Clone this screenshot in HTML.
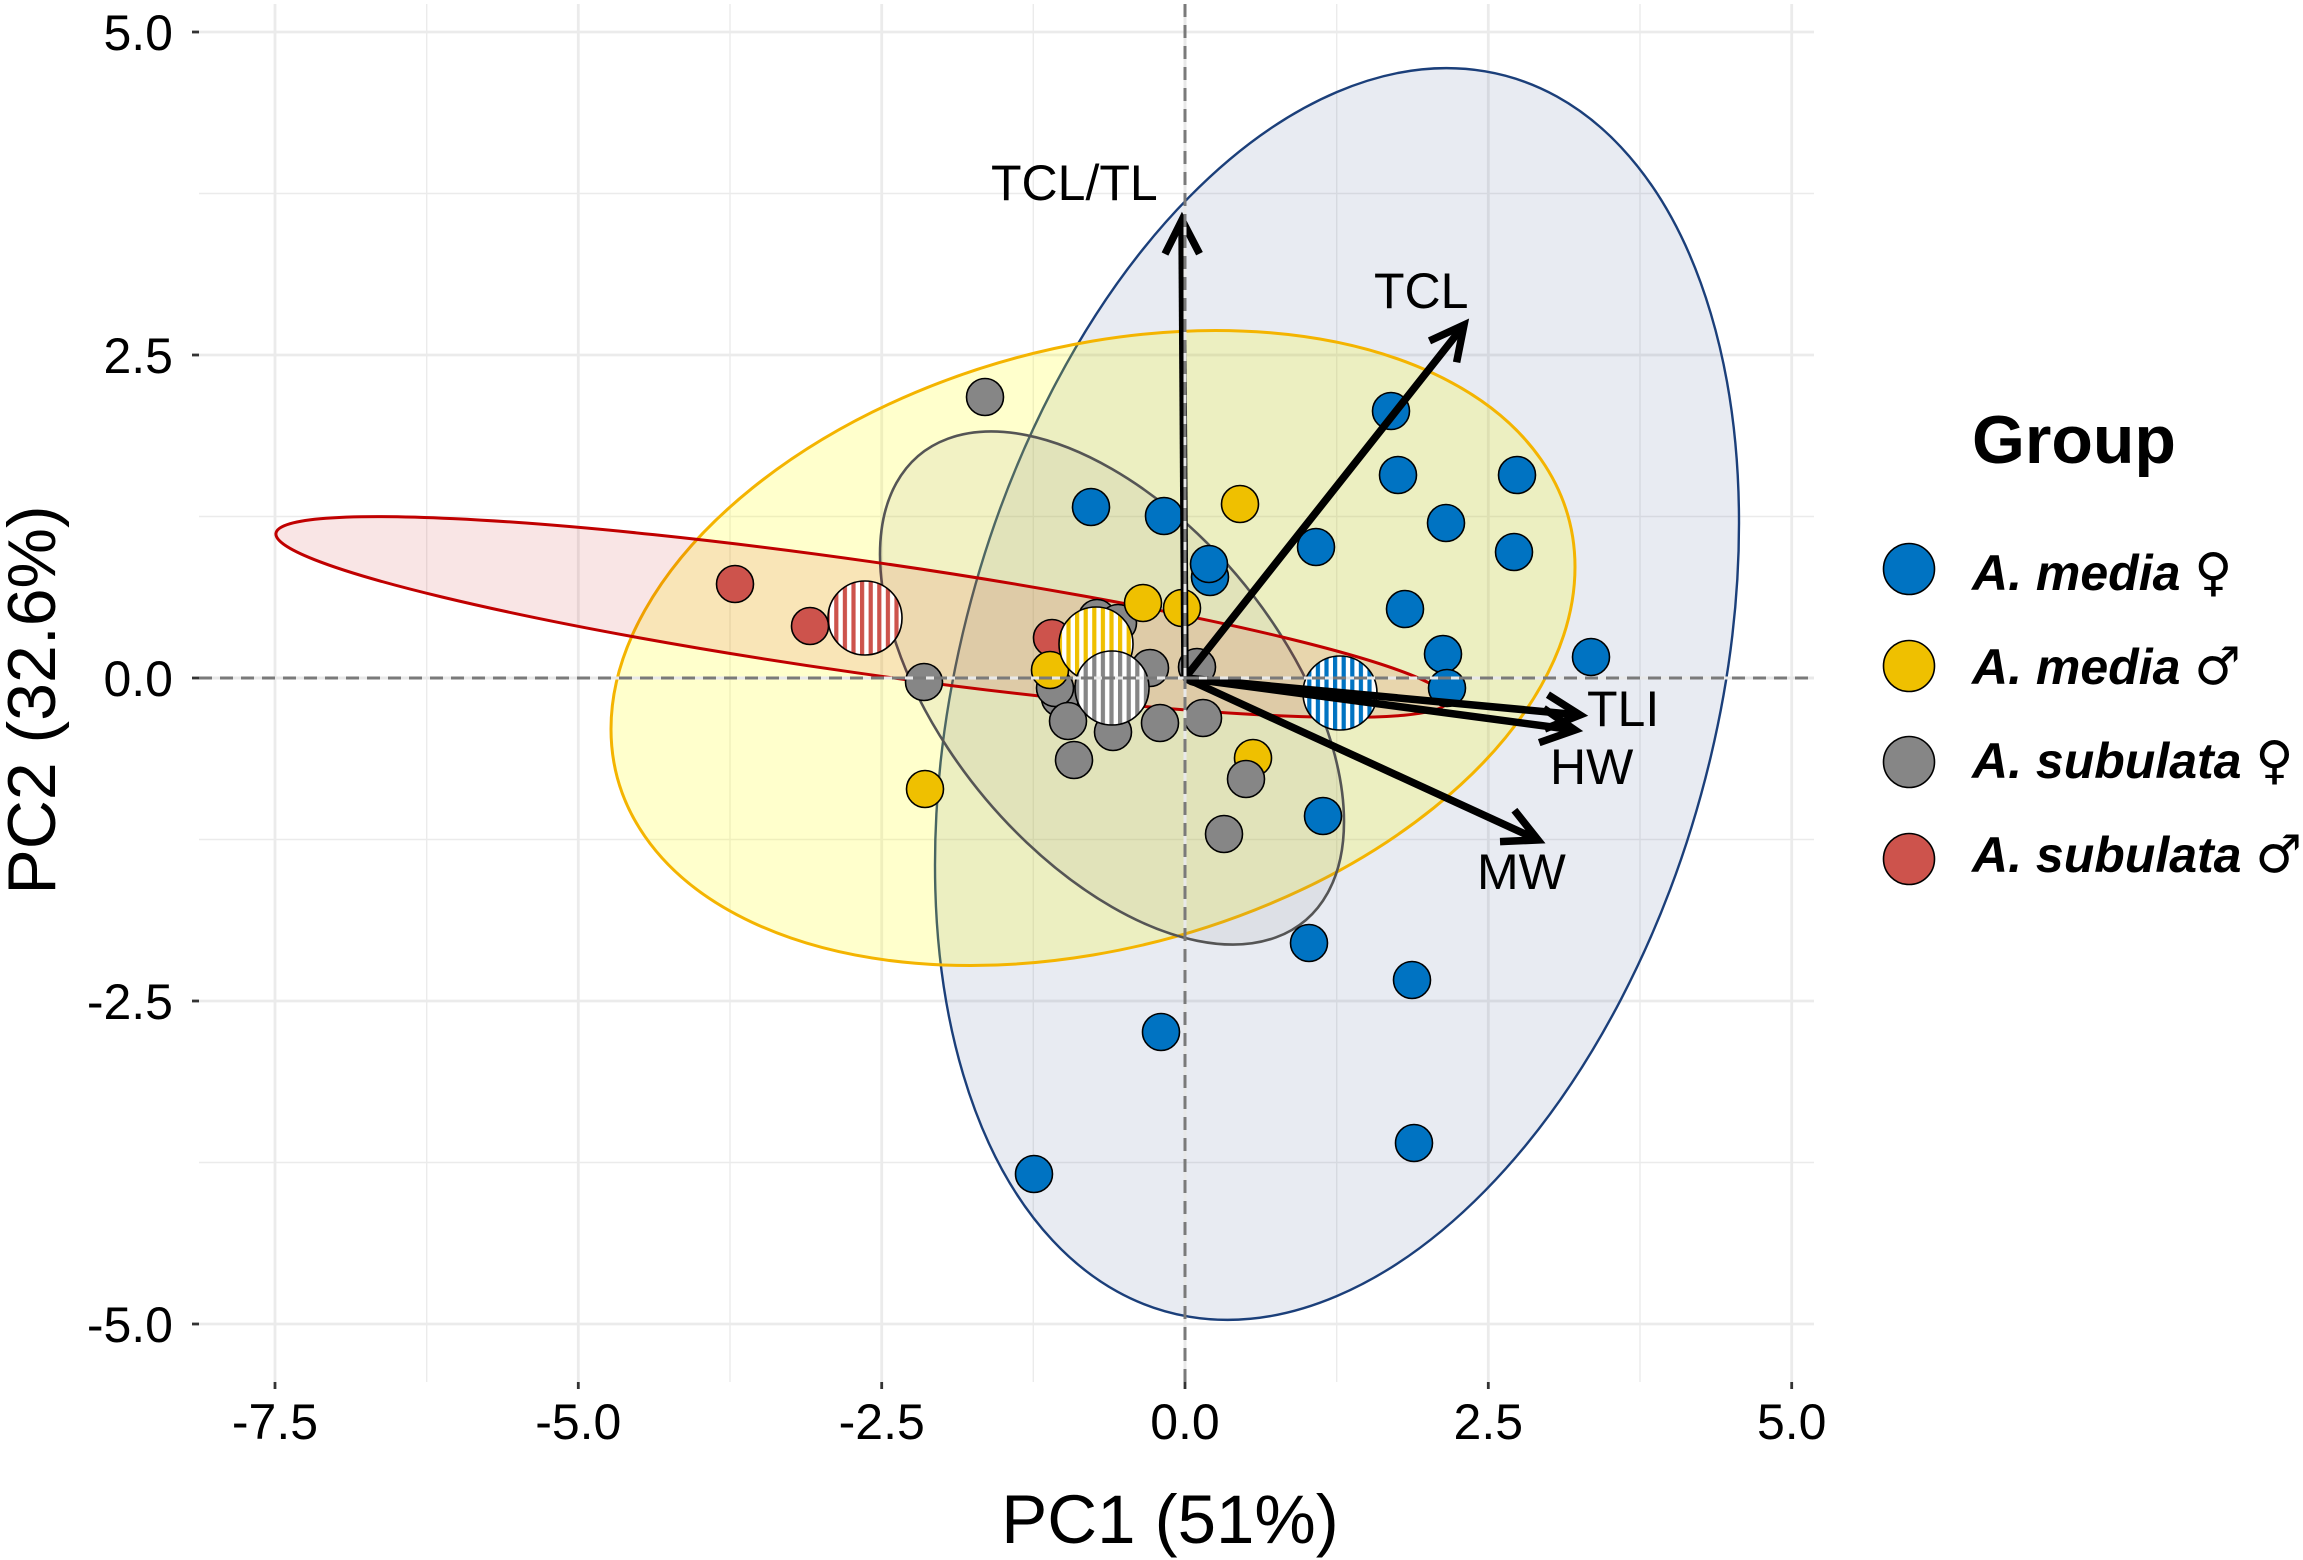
<!DOCTYPE html>
<html><head><meta charset="utf-8"><style>
html,body{margin:0;padding:0;background:#fff;}
svg{display:block;}
text{font-family:"Liberation Sans",Arial,sans-serif;}
</style></head><body>
<svg width="2303" height="1560" viewBox="0 0 2303 1560" xmlns="http://www.w3.org/2000/svg">
<defs>
<pattern id="pB" patternUnits="userSpaceOnUse" width="8.6" height="20"><rect width="8.6" height="20" fill="#fff"/><rect x="0" width="4.2" height="20" fill="#0073C2"/></pattern>
<pattern id="pY" patternUnits="userSpaceOnUse" width="8.6" height="20"><rect width="8.6" height="20" fill="#fff"/><rect x="0" width="4.2" height="20" fill="#EFC000"/></pattern>
<pattern id="pG" patternUnits="userSpaceOnUse" width="8.6" height="20"><rect width="8.6" height="20" fill="#fff"/><rect x="0" width="4.2" height="20" fill="#868686"/></pattern>
<pattern id="pR" patternUnits="userSpaceOnUse" width="8.6" height="20"><rect width="8.6" height="20" fill="#fff"/><rect x="0" width="4.2" height="20" fill="#CD534C"/></pattern>
</defs>
<rect width="2303" height="1560" fill="#fff"/>
<!-- minor grid -->
<g stroke="#ebebeb" stroke-width="1.4">
<line x1="426.7" y1="4" x2="426.7" y2="1382"/><line x1="730" y1="4" x2="730" y2="1382"/><line x1="1033.3" y1="4" x2="1033.3" y2="1382"/><line x1="1336.7" y1="4" x2="1336.7" y2="1382"/><line x1="1640" y1="4" x2="1640" y2="1382"/>
<line x1="199" y1="193.5" x2="1814" y2="193.5"/><line x1="199" y1="516.5" x2="1814" y2="516.5"/><line x1="199" y1="839.5" x2="1814" y2="839.5"/><line x1="199" y1="1162.5" x2="1814" y2="1162.5"/>
</g>
<!-- major grid -->
<g stroke="#ebebeb" stroke-width="2.8">
<line x1="275" y1="4" x2="275" y2="1382"/><line x1="578.3" y1="4" x2="578.3" y2="1382"/><line x1="881.7" y1="4" x2="881.7" y2="1382"/><line x1="1185" y1="4" x2="1185" y2="1382"/><line x1="1488.3" y1="4" x2="1488.3" y2="1382"/><line x1="1791.7" y1="4" x2="1791.7" y2="1382"/>
<line x1="199" y1="32" x2="1814" y2="32"/><line x1="199" y1="355" x2="1814" y2="355"/><line x1="199" y1="678" x2="1814" y2="678"/><line x1="199" y1="1001" x2="1814" y2="1001"/><line x1="199" y1="1324" x2="1814" y2="1324"/>
</g>
<!-- ellipses -->
<circle r="1" transform="matrix(402,-171,0,602,1337,694)" fill="rgba(26,61,124,0.1)" stroke="#1b3f7a" stroke-width="2.4" vector-effect="non-scaling-stroke"/>
<circle r="1" transform="matrix(482,-81,0,307,1093,648)" fill="rgba(255,255,0,0.2)" stroke="#f4b400" stroke-width="3" vector-effect="non-scaling-stroke"/>
<circle r="1" transform="matrix(232,133.6,0,219,1112,688)" fill="rgba(128,128,128,0.1)" stroke="#555555" stroke-width="2.6" vector-effect="non-scaling-stroke"/>
<ellipse cx="0" cy="0" rx="592" ry="56" transform="translate(862 617) rotate(8.13)" fill="rgba(192,0,0,0.1)" stroke="#c00000" stroke-width="3"/>
<!-- points -->
<g stroke="#000" stroke-width="1.6">
<g fill="#0073C2">
<circle cx="1391" cy="411" r="18.5"/><circle cx="1398" cy="475" r="18.5"/><circle cx="1517" cy="475" r="18.5"/><circle cx="1446" cy="523" r="18.5"/><circle cx="1514" cy="552" r="18.5"/><circle cx="1316" cy="547" r="18.5"/><circle cx="1405" cy="609" r="18.5"/><circle cx="1443" cy="654" r="18.5"/><circle cx="1447" cy="688" r="18.5"/><circle cx="1591" cy="657" r="18.5"/><circle cx="1091" cy="507" r="18.5"/><circle cx="1164" cy="516" r="18.5"/><circle cx="1210" cy="577" r="18.5"/><circle cx="1209" cy="564" r="18.5"/><circle cx="1323" cy="816" r="18.5"/><circle cx="1309" cy="943" r="18.5"/><circle cx="1412" cy="980" r="18.5"/><circle cx="1161" cy="1032" r="18.5"/><circle cx="1414" cy="1143" r="18.5"/><circle cx="1034" cy="1174" r="18.5"/>
</g>
<g fill="#CD534C">
<circle cx="735" cy="584" r="18.5"/><circle cx="810" cy="626" r="18.5"/><circle cx="1052" cy="638" r="18.5"/>
</g>
<g fill="#868686">
<circle cx="985" cy="397" r="18.5"/><circle cx="924" cy="682" r="18.5"/><circle cx="1097" cy="618" r="18.5"/><circle cx="1118" cy="623" r="18.5"/><circle cx="1060" cy="698" r="18.5"/><circle cx="1055" cy="688" r="18.5"/><circle cx="1150" cy="668" r="18.5"/><circle cx="1197" cy="667" r="18.5"/><circle cx="1068" cy="721" r="18.5"/><circle cx="1113" cy="732" r="18.5"/><circle cx="1160" cy="723" r="18.5"/><circle cx="1203" cy="718" r="18.5"/><circle cx="1074" cy="760" r="18.5"/><circle cx="1224" cy="834" r="18.5"/>
</g>
<g fill="#EFC000">
<circle cx="1240" cy="504" r="18.5"/><circle cx="1143" cy="603" r="18.5"/><circle cx="1182" cy="608" r="18.5"/><circle cx="1050" cy="670" r="18.5"/><circle cx="1253" cy="758" r="18.5"/><circle cx="925" cy="789" r="18.5"/>
</g>
<circle cx="1246" cy="779" r="18.5" fill="#868686"/>
<!-- means -->
<circle cx="1340" cy="693" r="37" fill="url(#pB)"/>
<circle cx="1096" cy="644" r="37" fill="url(#pY)"/>
<circle cx="1112" cy="688" r="37" fill="url(#pG)"/>
<circle cx="865" cy="618" r="37" fill="url(#pR)"/>
</g>
<!-- arrows -->
<g stroke="#000" stroke-width="7.5" fill="none" stroke-linejoin="miter" stroke-miterlimit="10">
<line x1="1185" y1="678" x2="1182" y2="224"/>
<path d="M1165 254 L1182 220 L1199.5 253.7"/>
<line x1="1185" y1="678" x2="1461.5" y2="328.2"/>
<path d="M1429.5 340.9 L1464 325 L1456.6 362.3"/>
<line x1="1185" y1="678" x2="1576" y2="714.6"/>
<path d="M1547.9 694.7 L1580 715 L1544.7 729"/>
<line x1="1185" y1="678" x2="1571" y2="729.5"/>
<path d="M1543.7 708.4 L1575 730 L1539.2 742.6"/>
<line x1="1185" y1="678" x2="1534.4" y2="838.3"/>
<path d="M1514.4 810.2 L1538 840 L1500 841.6"/>
</g>
<!-- dashed reference lines -->
<g stroke-width="3">
<line x1="199" y1="678" x2="1814" y2="678" stroke="#e8e8e8"/>
<line x1="1185" y1="4" x2="1185" y2="1382" stroke="#e8e8e8"/>
<line x1="199" y1="678" x2="1814" y2="678" stroke="#7a7a7a" stroke-dasharray="13 8"/>
<line x1="1185" y1="4" x2="1185" y2="1382" stroke="#7a7a7a" stroke-dasharray="13 8"/>
</g>
<!-- arrow labels -->
<g font-size="50" fill="#000">
<text x="991" y="200">TCL/TL</text>
<text x="1374" y="308">TCL</text>
<text x="1587" y="726">TLI</text>
<text x="1550" y="784">HW</text>
<text x="1477" y="889">MW</text>
</g>
<!-- axis ticks -->
<g stroke="#333" stroke-width="2.8">
<line x1="192" y1="32" x2="199" y2="32"/><line x1="192" y1="355" x2="199" y2="355"/><line x1="192" y1="678" x2="199" y2="678"/><line x1="192" y1="1001" x2="199" y2="1001"/><line x1="192" y1="1324" x2="199" y2="1324"/>
<line x1="275" y1="1382" x2="275" y2="1389"/><line x1="578.3" y1="1382" x2="578.3" y2="1389"/><line x1="881.7" y1="1382" x2="881.7" y2="1389"/><line x1="1185" y1="1382" x2="1185" y2="1389"/><line x1="1488.3" y1="1382" x2="1488.3" y2="1389"/><line x1="1791.7" y1="1382" x2="1791.7" y2="1389"/>
</g>
<g font-size="50" fill="#000" text-anchor="end">
<text x="173" y="50">5.0</text><text x="173" y="373">2.5</text><text x="173" y="696">0.0</text><text x="173" y="1019">-2.5</text><text x="173" y="1342">-5.0</text>
</g>
<g font-size="50" fill="#000" text-anchor="middle">
<text x="275" y="1439">-7.5</text><text x="578.3" y="1439">-5.0</text><text x="881.7" y="1439">-2.5</text><text x="1185" y="1439">0.0</text><text x="1488.3" y="1439">2.5</text><text x="1791.7" y="1439">5.0</text>
</g>
<text x="1170" y="1543" font-size="69" text-anchor="middle" fill="#000">PC1 (51%)</text>
<text transform="translate(55 700) rotate(-90)" font-size="68" text-anchor="middle" fill="#000">PC2 (32.6%)</text>
<!-- legend -->
<text x="1972" y="463" font-size="68" font-weight="bold" fill="#000">Group</text>
<g stroke="#000" stroke-width="1.6">
<circle cx="1909" cy="569" r="25.5" fill="#0073C2"/>
<circle cx="1909" cy="666" r="25.5" fill="#EFC000"/>
<circle cx="1909" cy="762" r="25.5" fill="#868686"/>
<circle cx="1909" cy="859" r="25.5" fill="#CD534C"/>
</g>
<g font-size="50" font-weight="bold" font-style="italic" fill="#000">
<text x="1972" y="590">A. media <tspan font-family="DejaVu Sans" font-weight="normal" font-style="normal" font-size="52">♀</tspan></text>
<text x="1972" y="684">A. media <tspan font-family="DejaVu Sans" font-weight="normal" font-style="normal" font-size="52">♂</tspan></text>
<text x="1972" y="778">A. subulata <tspan font-family="DejaVu Sans" font-weight="normal" font-style="normal" font-size="52">♀</tspan></text>
<text x="1972" y="872">A. subulata <tspan font-family="DejaVu Sans" font-weight="normal" font-style="normal" font-size="52">♂</tspan></text>
</g>
</svg>
</body></html>
